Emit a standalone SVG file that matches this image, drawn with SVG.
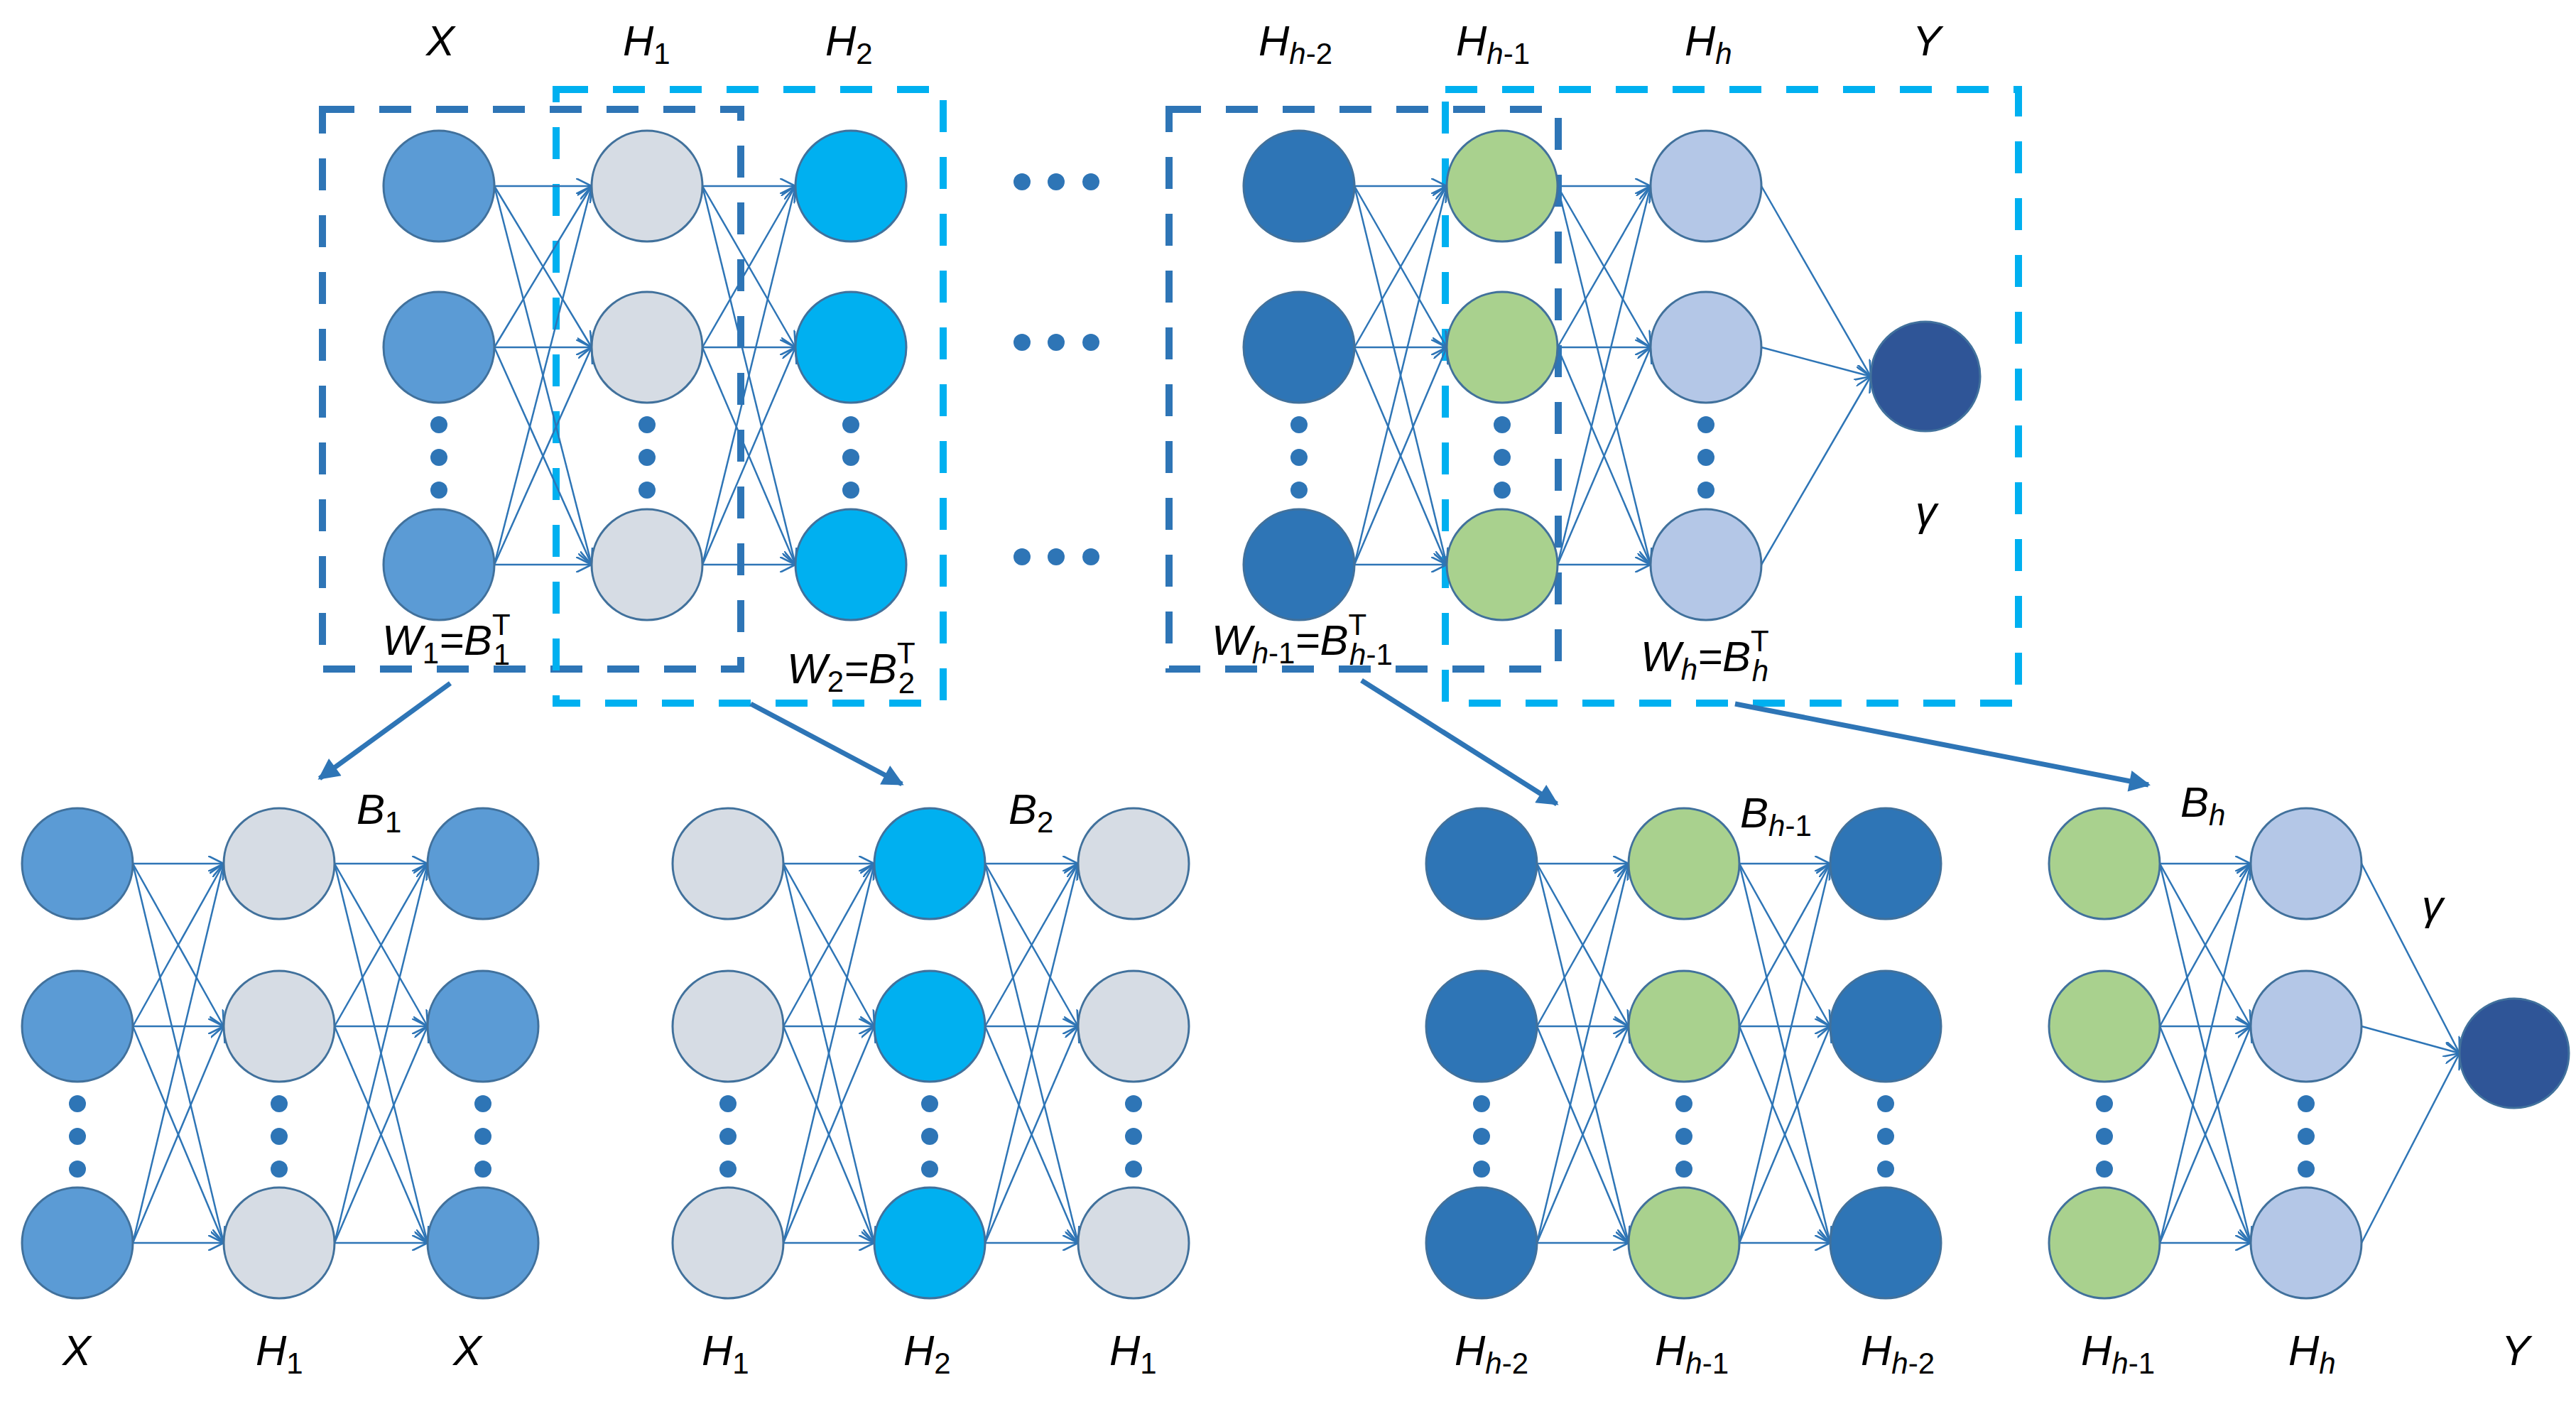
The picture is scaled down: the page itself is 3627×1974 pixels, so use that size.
<svg xmlns="http://www.w3.org/2000/svg" width="3627" height="1974" viewBox="0 0 3627 1974">
<style>
text{font-family:"Liberation Sans",Arial,sans-serif;font-style:italic;font-size:60px;fill:#000}
.s{font-size:42px;font-style:normal}
.si{font-size:42px}
.c{stroke-width:2.5}
.n{stroke:#41719C;stroke-width:3}
.x{fill:#5B9BD5}.g{fill:#D6DCE4}.b{fill:#00B0F0}.d{fill:#2E75B6}.gr{fill:#A9D18E}.lb{fill:#B4C7E7}.y{fill:#2F5597}
.dot{fill:#2E75B6}
.bd{fill:none;stroke:#2E75B6;stroke-width:10;stroke-dasharray:45 35}
.bl{fill:none;stroke:#00B0F0;stroke-width:10;stroke-dasharray:45 35}
.e line{stroke:#2E75B6;stroke-width:2.5;marker-end:url(#ah)}
.big line{stroke:#2E75B6;stroke-width:7;marker-end:url(#bh)}
</style>
<defs>
<marker id="ah" viewBox="0 0 10 10" refX="10" refY="5" markerWidth="22" markerHeight="22" markerUnits="userSpaceOnUse" orient="auto"><path d="M0,0 L10,5 L0,10" fill="none" stroke="#2E75B6" stroke-width="1.2"/></marker>
<marker id="bh" viewBox="0 0 10 10" refX="9" refY="5" markerWidth="36" markerHeight="30" markerUnits="userSpaceOnUse" orient="auto"><path d="M0,0 L10,5 L0,10 z" fill="#2E75B6"/></marker>
<g id="dots3"><circle cx="0" cy="0" r="12" class="dot"/><circle cx="0" cy="46" r="12" class="dot"/><circle cx="0" cy="92" r="12" class="dot"/></g>
</defs>
<rect width="3627" height="1974" fill="#fff"/>

<!-- dashed boxes -->
<g id="boxes">
<rect x="454" y="154" width="589" height="788" class="bd"/>
<rect x="783" y="126" width="545" height="864" class="bl"/>
<rect x="1646" y="154" width="548" height="788" class="bd"/>
<rect x="2035" y="126" width="807" height="864" class="bl"/>
</g>

<g id="connectors" class="e">
<!-- X->H1 -->
<line x1="696" y1="262" x2="833" y2="262"/><line x1="696" y1="262" x2="833" y2="489"/><line x1="696" y1="262" x2="833" y2="795"/>
<line x1="696" y1="489" x2="833" y2="262"/><line x1="696" y1="489" x2="833" y2="489"/><line x1="696" y1="489" x2="833" y2="795"/>
<line x1="696" y1="795" x2="833" y2="262"/><line x1="696" y1="795" x2="833" y2="489"/><line x1="696" y1="795" x2="833" y2="795"/>
<!-- H1->H2 -->
<line x1="989" y1="262" x2="1120" y2="262"/><line x1="989" y1="262" x2="1120" y2="489"/><line x1="989" y1="262" x2="1120" y2="795"/>
<line x1="989" y1="489" x2="1120" y2="262"/><line x1="989" y1="489" x2="1120" y2="489"/><line x1="989" y1="489" x2="1120" y2="795"/>
<line x1="989" y1="795" x2="1120" y2="262"/><line x1="989" y1="795" x2="1120" y2="489"/><line x1="989" y1="795" x2="1120" y2="795"/>
<!-- Hh-2->Hh-1 -->
<line x1="1907" y1="262" x2="2037" y2="262"/><line x1="1907" y1="262" x2="2037" y2="489"/><line x1="1907" y1="262" x2="2037" y2="795"/>
<line x1="1907" y1="489" x2="2037" y2="262"/><line x1="1907" y1="489" x2="2037" y2="489"/><line x1="1907" y1="489" x2="2037" y2="795"/>
<line x1="1907" y1="795" x2="2037" y2="262"/><line x1="1907" y1="795" x2="2037" y2="489"/><line x1="1907" y1="795" x2="2037" y2="795"/>
<!-- Hh-1->Hh -->
<line x1="2193" y1="262" x2="2324" y2="262"/><line x1="2193" y1="262" x2="2324" y2="489"/><line x1="2193" y1="262" x2="2324" y2="795"/>
<line x1="2193" y1="489" x2="2324" y2="262"/><line x1="2193" y1="489" x2="2324" y2="489"/><line x1="2193" y1="489" x2="2324" y2="795"/>
<line x1="2193" y1="795" x2="2324" y2="262"/><line x1="2193" y1="795" x2="2324" y2="489"/><line x1="2193" y1="795" x2="2324" y2="795"/>
<!-- Hh->Y -->
<line x1="2480" y1="262" x2="2634" y2="530"/><line x1="2480" y1="489" x2="2634" y2="530"/><line x1="2480" y1="795" x2="2634" y2="530"/>

<!-- bottom net 1 -->
<line x1="187" y1="1216" x2="315" y2="1216"/><line x1="187" y1="1216" x2="315" y2="1445"/><line x1="187" y1="1216" x2="315" y2="1750"/>
<line x1="187" y1="1445" x2="315" y2="1216"/><line x1="187" y1="1445" x2="315" y2="1445"/><line x1="187" y1="1445" x2="315" y2="1750"/>
<line x1="187" y1="1750" x2="315" y2="1216"/><line x1="187" y1="1750" x2="315" y2="1445"/><line x1="187" y1="1750" x2="315" y2="1750"/>
<line x1="471" y1="1216" x2="602" y2="1216"/><line x1="471" y1="1216" x2="602" y2="1445"/><line x1="471" y1="1216" x2="602" y2="1750"/>
<line x1="471" y1="1445" x2="602" y2="1216"/><line x1="471" y1="1445" x2="602" y2="1445"/><line x1="471" y1="1445" x2="602" y2="1750"/>
<line x1="471" y1="1750" x2="602" y2="1216"/><line x1="471" y1="1750" x2="602" y2="1445"/><line x1="471" y1="1750" x2="602" y2="1750"/>
<!-- bottom net 2 -->
<line x1="1103" y1="1216" x2="1231" y2="1216"/><line x1="1103" y1="1216" x2="1231" y2="1445"/><line x1="1103" y1="1216" x2="1231" y2="1750"/>
<line x1="1103" y1="1445" x2="1231" y2="1216"/><line x1="1103" y1="1445" x2="1231" y2="1445"/><line x1="1103" y1="1445" x2="1231" y2="1750"/>
<line x1="1103" y1="1750" x2="1231" y2="1216"/><line x1="1103" y1="1750" x2="1231" y2="1445"/><line x1="1103" y1="1750" x2="1231" y2="1750"/>
<line x1="1387" y1="1216" x2="1518" y2="1216"/><line x1="1387" y1="1216" x2="1518" y2="1445"/><line x1="1387" y1="1216" x2="1518" y2="1750"/>
<line x1="1387" y1="1445" x2="1518" y2="1216"/><line x1="1387" y1="1445" x2="1518" y2="1445"/><line x1="1387" y1="1445" x2="1518" y2="1750"/>
<line x1="1387" y1="1750" x2="1518" y2="1216"/><line x1="1387" y1="1750" x2="1518" y2="1445"/><line x1="1387" y1="1750" x2="1518" y2="1750"/>
<!-- bottom net 3 -->
<line x1="2164" y1="1216" x2="2293" y2="1216"/><line x1="2164" y1="1216" x2="2293" y2="1445"/><line x1="2164" y1="1216" x2="2293" y2="1750"/>
<line x1="2164" y1="1445" x2="2293" y2="1216"/><line x1="2164" y1="1445" x2="2293" y2="1445"/><line x1="2164" y1="1445" x2="2293" y2="1750"/>
<line x1="2164" y1="1750" x2="2293" y2="1216"/><line x1="2164" y1="1750" x2="2293" y2="1445"/><line x1="2164" y1="1750" x2="2293" y2="1750"/>
<line x1="2449" y1="1216" x2="2577" y2="1216"/><line x1="2449" y1="1216" x2="2577" y2="1445"/><line x1="2449" y1="1216" x2="2577" y2="1750"/>
<line x1="2449" y1="1445" x2="2577" y2="1216"/><line x1="2449" y1="1445" x2="2577" y2="1445"/><line x1="2449" y1="1445" x2="2577" y2="1750"/>
<line x1="2449" y1="1750" x2="2577" y2="1216"/><line x1="2449" y1="1750" x2="2577" y2="1445"/><line x1="2449" y1="1750" x2="2577" y2="1750"/>
<!-- bottom net 4 -->
<line x1="3041" y1="1216" x2="3169" y2="1216"/><line x1="3041" y1="1216" x2="3169" y2="1445"/><line x1="3041" y1="1216" x2="3169" y2="1750"/>
<line x1="3041" y1="1445" x2="3169" y2="1216"/><line x1="3041" y1="1445" x2="3169" y2="1445"/><line x1="3041" y1="1445" x2="3169" y2="1750"/>
<line x1="3041" y1="1750" x2="3169" y2="1216"/><line x1="3041" y1="1750" x2="3169" y2="1445"/><line x1="3041" y1="1750" x2="3169" y2="1750"/>
<line x1="3325" y1="1216" x2="3463" y2="1483"/><line x1="3325" y1="1445" x2="3463" y2="1483"/><line x1="3325" y1="1750" x2="3463" y2="1483"/>
</g>

<g id="big-arrows" class="big">
<line x1="634" y1="962" x2="450" y2="1096"/>
<line x1="1057" y1="991" x2="1270" y2="1104"/>
<line x1="1917" y1="958" x2="2192" y2="1132"/>
<line x1="2443" y1="991" x2="3025" y2="1105"/>
</g>

<!-- top network nodes -->
<g id="top-X" class="n"><circle cx="618" cy="262" r="78" class="x"/><circle cx="618" cy="489" r="78" class="x"/><circle cx="618" cy="795" r="78" class="x"/></g>
<g id="top-H1" class="n"><circle cx="911" cy="262" r="78" class="g"/><circle cx="911" cy="489" r="78" class="g"/><circle cx="911" cy="795" r="78" class="g"/></g>
<g id="top-H2" class="n"><circle cx="1198" cy="262" r="78" class="b"/><circle cx="1198" cy="489" r="78" class="b"/><circle cx="1198" cy="795" r="78" class="b"/></g>
<g id="top-Hh2" class="n"><circle cx="1829" cy="262" r="78" class="d"/><circle cx="1829" cy="489" r="78" class="d"/><circle cx="1829" cy="795" r="78" class="d"/></g>
<g id="top-Hh1" class="n"><circle cx="2115" cy="262" r="78" class="gr"/><circle cx="2115" cy="489" r="78" class="gr"/><circle cx="2115" cy="795" r="78" class="gr"/></g>
<g id="top-Hh" class="n"><circle cx="2402" cy="262" r="78" class="lb"/><circle cx="2402" cy="489" r="78" class="lb"/><circle cx="2402" cy="795" r="78" class="lb"/></g>
<g id="top-Y" class="n"><circle cx="2711" cy="530" r="77" class="y"/></g>
<g id="top-dots">
<use href="#dots3" x="618" y="598"/><use href="#dots3" x="911" y="598"/><use href="#dots3" x="1198" y="598"/>
<use href="#dots3" x="1829" y="598"/><use href="#dots3" x="2115" y="598"/><use href="#dots3" x="2402" y="598"/>
<circle cx="1439" cy="256" r="12" class="dot"/><circle cx="1487" cy="256" r="12" class="dot"/><circle cx="1536" cy="256" r="12" class="dot"/>
<circle cx="1439" cy="482" r="12" class="dot"/><circle cx="1487" cy="482" r="12" class="dot"/><circle cx="1536" cy="482" r="12" class="dot"/>
<circle cx="1439" cy="784" r="12" class="dot"/><circle cx="1487" cy="784" r="12" class="dot"/><circle cx="1536" cy="784" r="12" class="dot"/>
</g>

<!-- bottom nodes -->
<g id="b1-X" class="n"><circle cx="109" cy="1216" r="78" class="x"/><circle cx="109" cy="1445" r="78" class="x"/><circle cx="109" cy="1750" r="78" class="x"/></g>
<g id="b1-H1" class="n"><circle cx="393" cy="1216" r="78" class="g"/><circle cx="393" cy="1445" r="78" class="g"/><circle cx="393" cy="1750" r="78" class="g"/></g>
<g id="b1-X2" class="n"><circle cx="680" cy="1216" r="78" class="x"/><circle cx="680" cy="1445" r="78" class="x"/><circle cx="680" cy="1750" r="78" class="x"/></g>
<g id="b2-H1" class="n"><circle cx="1025" cy="1216" r="78" class="g"/><circle cx="1025" cy="1445" r="78" class="g"/><circle cx="1025" cy="1750" r="78" class="g"/></g>
<g id="b2-H2" class="n"><circle cx="1309" cy="1216" r="78" class="b"/><circle cx="1309" cy="1445" r="78" class="b"/><circle cx="1309" cy="1750" r="78" class="b"/></g>
<g id="b2-H1b" class="n"><circle cx="1596" cy="1216" r="78" class="g"/><circle cx="1596" cy="1445" r="78" class="g"/><circle cx="1596" cy="1750" r="78" class="g"/></g>
<g id="b3-Hh2" class="n"><circle cx="2086" cy="1216" r="78" class="d"/><circle cx="2086" cy="1445" r="78" class="d"/><circle cx="2086" cy="1750" r="78" class="d"/></g>
<g id="b3-Hh1" class="n"><circle cx="2371" cy="1216" r="78" class="gr"/><circle cx="2371" cy="1445" r="78" class="gr"/><circle cx="2371" cy="1750" r="78" class="gr"/></g>
<g id="b3-Hh2b" class="n"><circle cx="2655" cy="1216" r="78" class="d"/><circle cx="2655" cy="1445" r="78" class="d"/><circle cx="2655" cy="1750" r="78" class="d"/></g>
<g id="b4-Hh1" class="n"><circle cx="2963" cy="1216" r="78" class="gr"/><circle cx="2963" cy="1445" r="78" class="gr"/><circle cx="2963" cy="1750" r="78" class="gr"/></g>
<g id="b4-Hh" class="n"><circle cx="3247" cy="1216" r="78" class="lb"/><circle cx="3247" cy="1445" r="78" class="lb"/><circle cx="3247" cy="1750" r="78" class="lb"/></g>
<g id="b4-Y" class="n"><circle cx="3540" cy="1483" r="77" class="y"/></g>
<g id="bottom-dots">
<use href="#dots3" x="109" y="1554"/><use href="#dots3" x="393" y="1554"/><use href="#dots3" x="680" y="1554"/>
<use href="#dots3" x="1025" y="1554"/><use href="#dots3" x="1309" y="1554"/><use href="#dots3" x="1596" y="1554"/>
<use href="#dots3" x="2086" y="1554"/><use href="#dots3" x="2371" y="1554"/><use href="#dots3" x="2655" y="1554"/>
<use href="#dots3" x="2963" y="1554"/><use href="#dots3" x="3247" y="1554"/>
</g>

<!-- labels -->
<g id="labels">
<text x="600" y="78">X</text>
<text x="877" y="78">H<tspan class="s" dy="12">1</tspan></text>
<text x="1162" y="78">H<tspan class="s" dy="12">2</tspan></text>
<text x="1772" y="78">H<tspan class="si" dy="12">h</tspan><tspan class="s">-2</tspan></text>
<text x="2050" y="78">H<tspan class="si" dy="12">h</tspan><tspan class="s">-1</tspan></text>
<text x="2372" y="78">H<tspan class="si" dy="12">h</tspan></text>
<text x="2693" y="78">Y</text>
<text x="2697" y="740">γ</text>
<text x="538" y="922">W<tspan class="s" dy="12">1</tspan><tspan dy="-12">=B</tspan><tspan class="s" dy="-28">T</tspan><tspan class="s" dx="-24" dy="42">1</tspan></text>
<text x="1108" y="962">W<tspan class="s" dy="12">2</tspan><tspan dy="-12">=B</tspan><tspan class="s" dy="-28">T</tspan><tspan class="s" dx="-24" dy="42">2</tspan></text>
<text x="1706" y="922">W<tspan class="si" dy="12">h</tspan><tspan class="s">-1</tspan><tspan dy="-12">=B</tspan><tspan class="s" dy="-28">T</tspan><tspan class="si" dx="-24" dy="42">h</tspan><tspan class="s">-1</tspan></text>
<text x="2310" y="945">W<tspan class="si" dy="12">h</tspan><tspan dy="-12">=B</tspan><tspan class="s" dy="-28">T</tspan><tspan class="si" dx="-24" dy="42">h</tspan></text>

<text x="502" y="1160">B<tspan class="s" dy="12">1</tspan></text>
<text x="1420" y="1160">B<tspan class="s" dy="12">2</tspan></text>
<text x="2450" y="1165">B<tspan class="si" dy="12">h</tspan><tspan class="s">-1</tspan></text>
<text x="3070" y="1150">B<tspan class="si" dy="12">h</tspan></text>
<text x="3410" y="1295">γ</text>

<text x="88" y="1922">X</text>
<text x="360" y="1922">H<tspan class="s" dy="12">1</tspan></text>
<text x="638" y="1922">X</text>
<text x="988" y="1922">H<tspan class="s" dy="12">1</tspan></text>
<text x="1272" y="1922">H<tspan class="s" dy="12">2</tspan></text>
<text x="1562" y="1922">H<tspan class="s" dy="12">1</tspan></text>
<text x="2048" y="1922">H<tspan class="si" dy="12">h</tspan><tspan class="s">-2</tspan></text>
<text x="2330" y="1922">H<tspan class="si" dy="12">h</tspan><tspan class="s">-1</tspan></text>
<text x="2620" y="1922">H<tspan class="si" dy="12">h</tspan><tspan class="s">-2</tspan></text>
<text x="2930" y="1922">H<tspan class="si" dy="12">h</tspan><tspan class="s">-1</tspan></text>
<text x="3222" y="1922">H<tspan class="si" dy="12">h</tspan></text>
<text x="3522" y="1922">Y</text>
</g>
</svg>
